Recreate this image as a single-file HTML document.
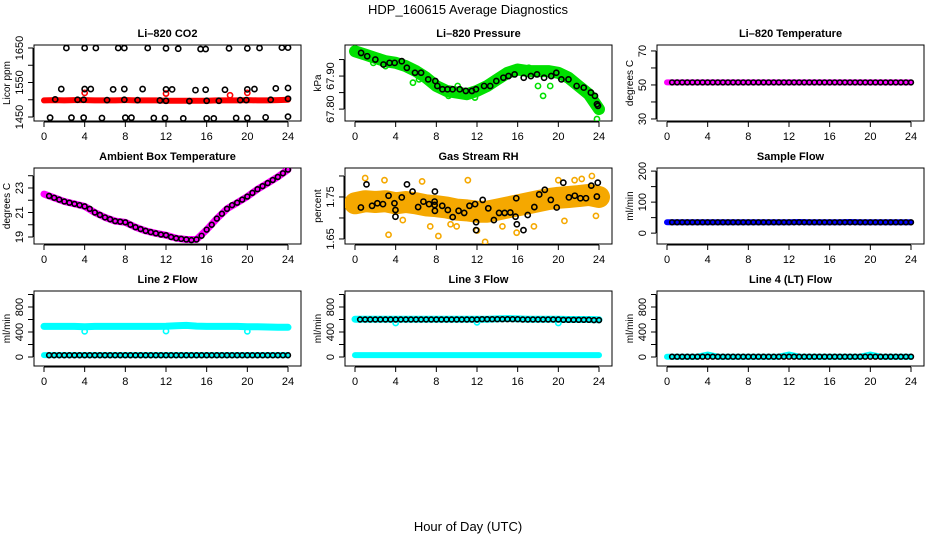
<!DOCTYPE html>
<html><head><meta charset="utf-8"><style>
html,body{margin:0;padding:0;background:#fff;}
svg{display:block;font-family:"Liberation Sans",sans-serif;}
</style></head><body>
<svg id="chart" width="936" height="540" viewBox="0 0 936 540">
<text x="468" y="14" text-anchor="middle" font-size="13">HDP_160615  Average Diagnostics</text>
<text x="468" y="531" text-anchor="middle" font-size="13">Hour of Day (UTC)</text>
</svg>
<script>
const hours25=[0,1,2,3,4,5,6,7,8,9,10,11,12,13,14,15,16,17,18,19,20,21,22,23,24];
const halfHours=[0.5,1,1.5,2,2.5,3,3.5,4,4.5,5,5.5,6,6.5,7,7.5,8,8.5,9,9.5,10,10.5,11,11.5,12,12.5,13,13.5,14,14.5,15,15.5,16,16.5,17,17.5,18,18.5,19,19.5,20,20.5,21,21.5,22,22.5,23,23.5,24];
const xTicks=[0,4,8,12,16,20,24];

const co2Red=[1498,1499,1498,1499,1499,1498,1498,1498,1499,1498,1498,1498,1497,1497,1497,1497,1497,1498,1498,1498,1499,1498,1498,1499,1500];
const co2RedOutH=[4.0,12.0,18.3,20.0];
const co2RedOutV=[1520,1518,1513,1520];
const co2BlackH=[2.2,4.0,5.1,7.3,7.9,10.2,12.0,13.2,15.4,15.9,18.2,20.0,21.2,23.4,24.0,1.7,4.0,4.6,6.8,7.9,9.7,12.0,12.6,14.9,15.9,17.8,20.0,20.7,22.8,24.0,1.1,3.3,3.9,6.2,7.9,9.2,11.4,12.0,14.3,16.0,17.2,19.3,19.9,22.3,24.0,0.6,2.7,3.9,5.7,8.0,8.6,10.8,11.9,13.7,16.0,16.7,18.9,20.0,21.8,24.0];
const co2BlackV=[1650,1650,1650,1650,1650,1650,1649,1648,1647,1647,1649,1649,1650,1651,1651,1531,1531,1531,1530,1531,1531,1530,1530,1528,1529,1529,1530,1531,1533,1534,1501,1500,1500,1499,1500,1499,1498,1497,1496,1497,1497,1499,1499,1500,1503,1448,1448,1448,1447,1448,1448,1447,1447,1446,1446,1446,1447,1447,1449,1451];

const presGreen=[67.975,67.965,67.955,67.945,67.94,67.93,67.915,67.895,67.87,67.855,67.85,67.845,67.855,67.87,67.89,67.91,67.92,67.915,67.915,67.915,67.91,67.895,67.87,67.845,67.80];
const presOutH=[1.8,3.0,5.7,6.3,9.2,10.1,11.8,17.1,18.0,18.5,19.2,21.3,22.1,23.8];
const presOutV=[67.94,67.93,67.88,67.89,67.84,67.87,67.835,67.925,67.87,67.84,67.87,67.88,67.86,67.77];
const presBlackH=[0.6,1.2,2.0,2.8,3.4,3.9,4.6,5.1,5.9,6.5,7.2,7.9,8.1,8.6,9.1,9.6,10.3,10.9,11.5,11.9,12.7,13.3,13.9,14.6,15.1,15.7,16.6,17.3,17.9,18.6,19.3,19.8,20.3,21.0,21.8,22.5,23.2,23.6,23.8,23.9];
const presBlackV=[67.97,67.96,67.95,67.935,67.94,67.94,67.945,67.925,67.91,67.91,67.89,67.885,67.87,67.86,67.86,67.86,67.86,67.855,67.855,67.86,67.87,67.87,67.885,67.895,67.9,67.905,67.895,67.9,67.905,67.895,67.9,67.91,67.89,67.89,67.87,67.865,67.85,67.84,67.815,67.81];

const tempMagenta=[51.5,51.5,51.5,51.5,51.5,51.5,51.5,51.5,51.5,51.5,51.5,51.5,51.5,51.5,51.5,51.5,51.5,51.5,51.5,51.5,51.5,51.5,51.5,51.5,51.5];
const tempBlack=[51.5,51.5,51.5,51.5,51.5,51.5,51.5,51.5,51.5,51.5,51.5,51.5,51.5,51.5,51.5,51.5,51.5,51.5,51.5,51.5,51.5,51.5,51.5,51.5,51.5,51.5,51.5,51.5,51.5,51.5,51.5,51.5,51.5,51.5,51.5,51.5,51.5,51.5,51.5,51.5,51.5,51.5,51.5,51.5,51.5,51.5,51.5,51.5];

const ambMagenta=[22.5,22.2,21.9,21.7,21.5,21.0,20.6,20.3,20.2,19.8,19.5,19.3,19.15,18.9,18.8,18.8,19.6,20.5,21.3,21.8,22.3,22.9,23.4,23.9,24.5];
const ambBlack=[22.35,22.2,22.05,21.9,21.8,21.7,21.6,21.5,21.3,21.0,20.8,20.6,20.45,20.3,20.25,20.2,20.0,19.8,19.65,19.5,19.4,19.3,19.2,19.15,19.0,18.9,18.85,18.8,18.75,18.8,19.1,19.6,20.0,20.5,20.9,21.3,21.6,21.8,22.05,22.3,22.6,22.9,23.15,23.4,23.65,23.9,24.2,24.5];

const rhCenter=[1.735,1.74,1.738,1.74,1.735,1.738,1.735,1.73,1.728,1.725,1.72,1.718,1.715,1.715,1.72,1.725,1.73,1.735,1.74,1.745,1.748,1.75,1.752,1.755,1.75];
const rhOutH=[1.0,2.9,3.3,4.7,6.6,7.4,8.2,9.4,10.0,11.1,12.0,12.8,14.5,15.9,17.6,20.0,20.6,21.6,22.3,23.3,23.7];
const rhOutV=[1.795,1.79,1.66,1.695,1.787,1.68,1.657,1.685,1.68,1.79,1.67,1.643,1.68,1.665,1.68,1.79,1.693,1.79,1.793,1.8,1.705];
const rhBlackH=[0.58,1.13,1.68,2.20,2.75,3.30,3.88,3.98,3.98,4.60,5.11,5.66,6.21,6.73,7.28,7.83,7.83,7.86,7.86,8.58,9.13,9.61,10.19,10.74,11.26,11.81,11.91,11.91,12.56,13.11,13.66,14.17,14.72,15.28,15.79,15.86,15.92,16.57,16.99,17.64,18.12,18.67,19.26,19.84,20.49,21.04,21.62,22.17,22.72,23.24,23.79,23.88];
const rhBlackV=[1.725,1.780,1.729,1.735,1.733,1.753,1.735,1.719,1.703,1.749,1.780,1.763,1.726,1.739,1.733,1.739,1.731,1.763,1.717,1.729,1.719,1.702,1.717,1.712,1.729,1.733,1.690,1.671,1.743,1.723,1.695,1.712,1.712,1.713,1.703,1.747,1.685,1.671,1.707,1.726,1.756,1.767,1.743,1.725,1.784,1.749,1.753,1.747,1.747,1.777,1.751,1.784];

const sampleBlue=[35,35,35,35,35,35,35,35,35,35,35,35,35,36,35,35,35,35,36,35,35,35,35,35,35];
const sampleBlack=[35,35,35,35,35,35,35,35,35,35,35,35,35,35,35,35,35,35,35,35,35,35,35,35,35,35,35,35,35,35,35,35,35,35,35,35,35,35,35,35,35,35,35,35,35,35,35,35];

const line2CyanHigh=[490,490,490,490,485,490,490,490,490,490,490,490,492,500,505,495,490,490,490,490,485,485,480,475,475];
const line2CyanLow=[30,30,30,30,30,30,30,30,30,30,30,30,30,30,30,30,30,30,30,30,30,30,30,30,30];
const line2DipH=[4.0,12.0,20.0];
const line2DipV=[410,415,410];
const line2Black=[28,28,28,28,28,28,28,28,28,28,28,28,28,28,28,28,28,28,28,28,28,28,28,28,28,28,28,28,28,28,28,28,28,28,28,28,28,28,28,28,28,28,28,28,28,28,28,28];

const line3CyanHigh=[605,605,605,605,605,605,605,605,605,605,605,605,605,605,610,615,610,605,605,605,605,600,600,600,595];
const line3CyanLow=[30,30,30,30,30,30,30,30,30,30,30,30,30,30,30,30,30,30,30,30,30,30,30,30,30];
const line3DipH=[4.0,12.0,20.0];
const line3DipV=[545,555,545];
const line3Black=[600,600,600,600,600,600,600,600,600,600,600,600,600,600,600,600,600,600,600,600,600,600,600,600,605,605,605,605,605,605,605,605,600,600,600,600,600,600,600,600,595,595,595,595,595,595,590,590];

const line4Cyan=[5,5,5,5,40,5,5,5,5,5,5,5,40,5,5,5,5,5,5,5,40,5,5,5,5];
const line4Black=[5,5,5,5,5,5,5,5,5,5,5,5,5,5,5,5,5,5,5,5,5,5,5,5,5,5,5,5,5,5,5,5,5,5,5,5,5,5,5,5,5,5,5,5,5,5,5,5];

const NS="http://www.w3.org/2000/svg";
const svg=document.getElementById('chart');
function el(tag,attrs,parent){const e=document.createElementNS(NS,tag);for(const k in attrs)e.setAttribute(k,attrs[k]);(parent||svg).appendChild(e);return e;}

function panel(name,title,ytitle,L,T,R,B,yTop,yBot,yTickVals,yLabVals){
  const g=el('g',{});
  
  
  const x0=L+10,x1=R-13;
  const sx=h=>x0+(x1-x0)*h/24;
  const sy=v=>T+(B-T)*(yTop-v)/(yTop-yBot);
  const t=el('text',{x:(L+R)/2,y:T-8,'text-anchor':'middle','font-size':11,'font-weight':'bold'},g);
  t.textContent=title;
  
  
  const box=el('rect',{x:L,y:T,width:R-L,height:B-T,fill:'none',stroke:'#000','stroke-width':1},g);
  
  
  const xa=el('g',{},g);
  
  
  el('line',{x1:sx(0),x2:sx(24),y1:B+1,y2:B+1,stroke:'#000'},xa);
  xTicks.forEach(h=>{
    el('line',{x1:sx(h),x2:sx(h),y1:B+1,y2:B+6,stroke:'#000'},xa);
    const tl=el('text',{x:sx(h),y:B+19,'text-anchor':'middle','font-size':11},xa);
    tl.textContent=h;
    
    
  });
  const ya=el('g',{},g);
  
  
  const tmin=yTickVals[0],tmax=yTickVals[yTickVals.length-1];
  el('line',{x1:L-1,x2:L-1,y1:sy(tmin),y2:sy(tmax),stroke:'#000'},ya);
  yTickVals.forEach(v=>el('line',{x1:L-6,x2:L-1,y1:sy(v),y2:sy(v),stroke:'#000'},ya));
  yLabVals.forEach(v=>{
    const yy=sy(v);
    const tl=el('text',{x:L-11,y:yy,'text-anchor':'middle','font-size':11,transform:`rotate(-90 ${L-11} ${yy})`},ya);
    tl.textContent=v;
    
    
  });
  const yc=(T+B)/2;
  const yt=el('text',{x:L-24,y:yc,'text-anchor':'middle','font-size':10,transform:`rotate(-90 ${L-24} ${yc})`},g);
  yt.textContent=ytitle;
  
  
  const clip='c'+name;
  const cp=el('clipPath',{id:clip},g);
  el('rect',{x:L,y:T,width:R-L,height:B-T},cp);
  const plot=el('g',{'clip-path':`url(#${clip})`},g);
  return {sx,sy,g:plot};
}
function band(p,xs,vs,color,w,name){
  const d=xs.map((h,i)=>(i?'L':'M')+p.sx(h).toFixed(1)+','+p.sy(vs[i]).toFixed(1)).join('');
  const e=el('path',{d,fill:'none',stroke:color,'stroke-width':w,'stroke-linecap':'round','stroke-linejoin':'round'},p.g);
  
  
}
function pts(p,xs,vs,color,name,r){
  const gg=el('g',{},p.g);
  
  
  xs.forEach((h,i)=>{
    const c=el('circle',{cx:p.sx(h),cy:p.sy(vs[i]),r:r||2.6,fill:'none',stroke:color,'stroke-width':1.6},gg);
    
    
  });
}

// Row 1
let p=panel('co2-panel','Li\u2013820 CO2','Licor ppm',34,45,301,121,1658.7,1438.4,[1450,1500,1550,1600,1650],[1450,1550,1650]);
band(p,hours25,co2Red,'#ff0000',6,'co2-red-series');
pts(p,co2RedOutH,co2RedOutV,'#ff0000','co2-red-outliers');
pts(p,co2BlackH,co2BlackV,'#000','co2-black-series');

p=panel('pressure-panel','Li\u2013820 Pressure','kPa',345,45,612,121,67.994,67.764,[67.80,67.85,67.90,67.95],['67.80','67.90']);
band(p,hours25,presGreen,'#00e000',12,'pressure-green-series');
pts(p,presOutH,presOutV,'#00e000','pressure-green-outliers');
pts(p,presBlackH,presBlackV,'#000','pressure-black-series');

p=panel('temperature-panel','Li\u2013820 Temperature','degrees C',657,45,924,121,73.5,28.8,[30,40,50,60,70],[30,50,70]);
band(p,hours25,tempMagenta,'#ff00ff',6,'temperature-magenta-series');
pts(p,halfHours,tempBlack,'#000','temperature-black-series',2.4);

// Row 2
p=panel('ambient-panel','Ambient Box Temperature','degrees C',34,168,301,244,24.63,18.43,[19,20,21,22,23,24],[19,21,23]);
band(p,hours25,ambMagenta,'#ff00ff',7,'ambient-magenta-series');
pts(p,halfHours,ambBlack,'#000','ambient-black-series',2.4);

p=panel('rh-panel','Gas Stream RH','percent',345,168,612,244,1.819,1.638,[1.65,1.70,1.75,1.80],['1.65','1.75']);
band(p,hours25,rhCenter,'#f5a800',22,'rh-orange-series');
pts(p,rhOutH,rhOutV,'#f5a800','rh-orange-outliers');
pts(p,rhBlackH,rhBlackV,'#000','rh-black-series');

p=panel('sample-flow-panel','Sample Flow','ml/min',657,168,924,244,210,-35,[0,50,100,150,200],[0,100,200]);
band(p,hours25,sampleBlue,'#0000ff',6,'sample-blue-series');
pts(p,halfHours,sampleBlack,'#000','sample-black-series',2.4);

// Row 3
const flowTicks=[0,200,400,600,800,1000],flowLabs=[0,400,800];
p=panel('line2-panel','Line 2 Flow','ml/min',34,291,301,366,1056,-144,flowTicks,flowLabs);
band(p,hours25,line2CyanHigh,'#00ffff',7,'line2-cyan-high');
band(p,hours25,line2CyanLow,'#00ffff',6,'line2-cyan-low');
pts(p,line2DipH,line2DipV,'#00ffff','line2-cyan-dips');
pts(p,halfHours,line2Black,'#000','line2-black-series',2.4);

p=panel('line3-panel','Line 3 Flow','ml/min',345,291,612,366,1056,-144,flowTicks,flowLabs);
band(p,hours25,line3CyanHigh,'#00ffff',7,'line3-cyan-high');
band(p,hours25,line3CyanLow,'#00ffff',6,'line3-cyan-low');
pts(p,line3DipH,line3DipV,'#00ffff','line3-cyan-dips');
pts(p,halfHours,line3Black,'#000','line3-black-series',2.4);

p=panel('line4-panel','Line 4 (LT) Flow','ml/min',657,291,924,366,1056,-144,flowTicks,flowLabs);
band(p,hours25,line4Cyan,'#00ffff',6,'line4-cyan-series');
pts(p,halfHours,line4Black,'#000','line4-black-series',2.4);
</script>
</body></html>
